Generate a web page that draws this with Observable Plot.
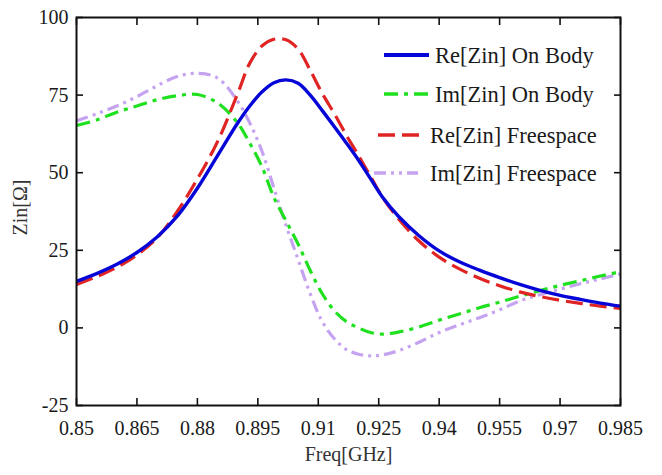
<!DOCTYPE html>
<html><head><meta charset="utf-8">
<script src="https://cdn.jsdelivr.net/npm/d3@7"></script>
<script src="https://cdn.jsdelivr.net/npm/@observablehq/plot@0.6"></script>
<style>
html,body{margin:0;padding:0;background:#fff;}
#wrap{position:relative;width:662px;height:475px;}
#legend{position:absolute;left:0;top:0;pointer-events:none;}
</style></head><body><div id="wrap"></div>
<script>
const freq = [0.85,0.855,0.86,0.865,0.87,0.875,0.88,0.885,0.89,0.893,0.896,0.899,0.902,0.905,0.908,0.911,0.914,0.917,0.92,0.923,0.926,0.93,0.935,0.94,0.945,0.95,0.955,0.96,0.965,0.97,0.975,0.98,0.985];
const reOnBody = [15,17.5,20.5,24.3,29.3,36,45,55.5,66,71.5,76,79,79.9,78.8,75,70,64.8,59.5,54,48,42,35.8,29.7,24.8,21.3,18.6,16.2,14,12.1,10.5,9.2,8,7];
const imOnBody = [65.2,67,69.5,71.5,73.5,74.8,75.2,72.5,66,59.5,52,42,34.5,27,18.5,11,5.5,2,0,-1.5,-2,-1.3,0.3,2.5,4.5,6.5,8.3,10.2,12,13.7,15.2,16.7,18.1];
const reFreespace = [14,16.5,19.5,23.5,29,37.5,48,60,75.5,85.3,90.8,93,92.8,89.8,83,75.5,69,62,55.5,48.7,42,35,28,22.8,19,16,13.6,11.6,10.1,8.9,7.9,7,6.3];
const imFreespace = [66.7,69,71.5,74.5,78,81,82,80.5,73,66,57,45,33,22,11,2,-3.5,-7,-8.5,-9,-8.7,-7.3,-4.6,-1.5,1,3.3,5.8,8.7,10.7,12.5,14.2,15.8,17.4];
const seriesNames = ["Re[Zin] On Body","Im[Zin] On Body","Re[Zin] Freespace","Im[Zin] Freespace"];
const xTicks = [0.85,0.865,0.88,0.895,0.91,0.925,0.94,0.955,0.97,0.985];
const yTicks = [-25,0,25,50,75,100];
const xLabel = "Freq[GHz]";
const yLabel = "Zin[Ω]";

// pick an installed Times-like serif font
function pickFont(cands) {
  const c = document.createElement("canvas").getContext("2d");
  const s = "Re[Zin] On Body 0.865";
  c.font = "40px monospace"; const base = c.measureText(s).width;
  c.font = "40px sans-serif"; const base2 = c.measureText(s).width;
  for (const f of cands) {
    c.font = `40px "${f}", monospace`; const w1 = c.measureText(s).width;
    c.font = `40px "${f}", sans-serif`; const w2 = c.measureText(s).width;
    if (w1 !== base && w2 !== base2) return f;
  }
  return null;
}
const found = pickFont(["Liberation Serif","Tinos","Times New Roman","Times","Nimbus Roman","Noto Serif","DejaVu Serif"]);
const FONT = (found ? `"${found}", ` : "") + "serif";

const styles = [
  {stroke:"#0505d8", strokeWidth:3.4, dash:null},
  {stroke:"#1fe01f", strokeWidth:3.2, dash:"14,6,4,6"},
  {stroke:"#e02424", strokeWidth:3.2, dash:"17,7"},
  {stroke:"#c6a3f0", strokeWidth:3.2, dash:"12,5,3,5,3,5"}
];
const valuesList = [reOnBody, imOnBody, reFreespace, imFreespace];
const rows = valuesList.map((vals, i) => freq.map((f, j) => ({f, v: vals[j], s: seriesNames[i]})));

const lineMarks = rows.map((r, i) => Plot.line(r, {
  x: "f", y: "v", stroke: styles[i].stroke, strokeWidth: styles[i].strokeWidth,
  strokeDasharray: styles[i].dash || undefined, curve: "catmull-rom", strokeLinecap: "butt"
}));
const ordered = [lineMarks[3], lineMarks[1], lineMarks[2], lineMarks[0]];

const tickStyle = {stroke:"#111", strokeWidth:1.6};
const chart = Plot.plot({
  width:662, height:475, marginLeft:76, marginRight:42, marginTop:17, marginBottom:70,
  style:{fontFamily:FONT, fontSize:"20px", background:"#fff", color:"#1a1a1a"},
  x:{domain:[0.85,0.985]}, y:{domain:[-25,100]},
  marks:[
    Plot.axisX({ticks:xTicks, tickSize:0, tickPadding:15, tickFormat:d=>String(d), label:null, fontSize:20}),
    Plot.axisX({ticks:xTicks, tickSize:7, tickFormat:()=>"", label:null, dy:-7, ...tickStyle}),
    Plot.axisX({anchor:"top", ticks:xTicks, tickSize:7, tickFormat:()=>"", label:null, dy:7, ...tickStyle}),
    Plot.axisY({ticks:yTicks, tickSize:0, tickPadding:8, tickFormat:d=>String(d), label:null, fontSize:20}),
    Plot.axisY({ticks:yTicks, tickSize:7, tickFormat:()=>"", label:null, dx:7, ...tickStyle}),
    Plot.axisY({anchor:"right", ticks:yTicks, tickSize:7, tickFormat:()=>"", label:null, dx:-7, ...tickStyle}),
    ...ordered,
    Plot.frame({stroke:"#111", strokeWidth:2}),
    Plot.text([xLabel], {text:d=>d, frameAnchor:"bottom", dy:55, fontSize:20, fill:"#333"}),
    Plot.text([yLabel], {text:d=>d, frameAnchor:"left", rotate:-90, dx:-56, dy:24, fontSize:20, fill:"#333"})
  ]
});
const wrap = document.getElementById("wrap");
wrap.appendChild(chart);

const legendPos = [
  {y:55, x1:384, x2:429, tx:435},
  {y:94, x1:384, x2:428, tx:435},
  {y:135, x1:378, x2:422, tx:430},
  {y:173, x1:374, x2:418, tx:430}
];
const NS = "http://www.w3.org/2000/svg";
const lg = document.createElementNS(NS, "svg");
lg.setAttribute("id","legend");
lg.setAttribute("width","662"); lg.setAttribute("height","475");
seriesNames.forEach((name, i) => {
  const p = legendPos[i];
  const ln = document.createElementNS(NS, "line");
  ln.setAttribute("x1", p.x1); ln.setAttribute("x2", p.x2);
  ln.setAttribute("y1", p.y); ln.setAttribute("y2", p.y);
  ln.setAttribute("stroke", styles[i].stroke);
  ln.setAttribute("stroke-width", styles[i].strokeWidth + 0.4);
  if (styles[i].dash) ln.setAttribute("stroke-dasharray", styles[i].dash);
  lg.appendChild(ln);
  const t = document.createElementNS(NS, "text");
  t.setAttribute("x", p.tx); t.setAttribute("y", p.y);
  t.setAttribute("dy", "0.35em");
  t.setAttribute("font-family", FONT);
  t.setAttribute("font-size", "22.5");
  t.setAttribute("fill", "#1a1a1a");
  t.textContent = name;
  lg.appendChild(t);
});
wrap.appendChild(lg);
</script></body></html>
